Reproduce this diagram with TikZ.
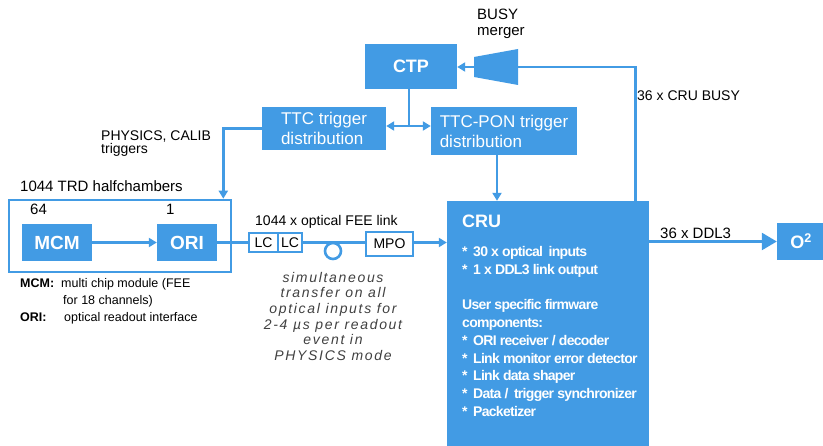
\documentclass[tikz,border=0pt]{standalone}
\usepackage{fontspec}
\setmainfont{Liberation Sans}
\newfontfamily\notefont[LetterSpace=12]{Liberation Sans}
\newfontfamily\crufont[LetterSpace=-5]{Liberation Sans}
\usetikzlibrary{arrows.meta,calc}
\definecolor{trdblue}{RGB}{66,155,228}

\tikzset{
  blk/.style={fill=trdblue, text=white, inner sep=0pt},
  wire/.style={draw=trdblue, line width=2.6pt},
  tip/.style={-{Triangle[length=8pt,width=9pt]}},
  plug/.style={draw=trdblue, line width=2pt, fill=white, inner sep=0pt, minimum height=19pt},
  lbl/.style={anchor=base west, inner sep=0pt},
}

\begin{document}
\begin{tikzpicture}[x=1pt, y=-1pt]
      \useasboundingbox (0,0) rectangle (823,446);

      % boxes
      \node[blk, minimum width=92pt, minimum height=45pt, font=\fontsize{18}{20}\selectfont\bfseries] (ctp) at (411,66.5) {CTP};
      \node[blk, minimum width=124pt, minimum height=43pt, align=left, font=\fontsize{17}{20}\selectfont] (ttc) at (324,128.5) {TTC trigger\\distribution};
      \node[blk, minimum width=146pt, minimum height=48pt, align=left, font=\fontsize{17}{20}\selectfont] (ttcpon) at (504,131) {TTC-PON trigger\\distribution};
      \node[draw=trdblue, line width=2.6pt, minimum width=222pt, minimum height=72pt, inner sep=0pt] (trd) at (120,236) {};
      \node[blk, minimum width=70pt, minimum height=37pt, font=\fontsize{19}{20}\selectfont\bfseries] (mcm) at (57,242.5) {MCM};
      \node[blk, minimum width=60pt, minimum height=37pt, font=\fontsize{19}{20}\selectfont\bfseries] (ori) at (187,242.5) {ORI};
      \node[plug, minimum width=29pt, font=\fontsize{14}{16}\selectfont] (lc1) at (263.5,242.5) {LC};
      \node[plug, minimum width=24pt, font=\fontsize{14}{16}\selectfont] (lc2) at (290,242.5) {LC};
      \node[plug, minimum width=47pt, minimum height=24pt, font=\fontsize{14}{16}\selectfont] (mpo) at (389.5,244) {MPO};
      \node[blk, minimum width=202pt, minimum height=250pt] (cru) at (548,326) {};
      \node[blk, minimum width=48pt, minimum height=37pt, font=\fontsize{18}{20}\selectfont\bfseries] (o2) at (801,241.5) {O\textsuperscript{2}};

      % busy merger
      \fill[trdblue] (474,57) -- (518,49) -- (518,85) -- (474,77) -- cycle;
      \coordinate (mrgL) at (474,67);
      \coordinate (mrgR) at (518,67);

      % cru text
      \node[anchor=base west, inner sep=0pt, text=white, font=\fontsize{18}{20}\selectfont\bfseries] (crut) at (462,228) {CRU};
      \node[anchor=north west, inner sep=0pt, text=white, align=left, font=\fontsize{14}{17.8}\crufont\bfseries] (cruinfo) at (462,246)
        {*\, 30 x optical\, inputs\\
         *\, 1 x DDL3 link output\\[17.8pt]
         User specific firmware\\
         components:\\
         *\, ORI receiver / decoder\\
         *\, Link monitor error detector\\
         *\, Link data shaper\\
         *\, Data /\, trigger synchronizer\\
         *\, Packetizer};

      % connectors
      \draw[wire, tip] (mrgL) -- (ctp.east |- mrgL);
      \coordinate (cruBusy) at ($(cru.north east)+(-14,0)$);
      \draw[wire] (mrgR) -| (cruBusy);
      \coordinate (split) at (409,126);
      \draw[wire] (ctp.south -| split) -- (split);
      \draw[wire, {Triangle[length=8pt,width=9pt]}-{Triangle[length=8pt,width=9pt]}] (ttc.east |- split) -- (ttcpon.west |- split);
      \coordinate (trdIn) at ($(trd.north east)+(-9,0)$);
      \draw[wire, tip] (ttc.west) -| (trdIn);
      \coordinate (ponOut) at ($(ttcpon.south)+(-7,0)$);
      \draw[wire, tip] (ponOut) -- (ponOut |- cru.north);
      \draw[wire, tip] (mcm.east) -- (ori.west);
      \draw[wire] (ori.east) -- (lc1.west);
      \draw[wire] (lc2.east) -- (mpo.west |- lc2);
      \node[draw=trdblue, line width=2.6pt, fill=white, circle, minimum size=16pt, inner sep=0pt] (loop) at (333,251) {};
      \draw[wire, tip] (mpo.east |- lc2) -- (cru.west |- lc2);
      \draw[wire, -{Triangle[length=15pt,width=17pt]}] (cru.east |- o2) -- (o2.west);

      % labels
      \node[lbl, font=\fontsize{15}{17}\selectfont] at (477,20) {BUSY};
      \node[lbl, font=\fontsize{15}{17}\selectfont] at (477,36) {merger};
      \node[lbl, font=\fontsize{14}{16}\selectfont] at (637,101) {36 x CRU BUSY};
      \node[lbl, font=\fontsize{14}{16}\selectfont] at (101,141) {PHYSICS, CALIB};
      \node[lbl, font=\fontsize{14}{16}\selectfont] at (101,154) {triggers};
      \node[lbl, font=\fontsize{15}{17}\selectfont] at (20,192) {1044 TRD halfchambers};
      \node[lbl, font=\fontsize{15}{17}\selectfont] at (30,215) {64};
      \node[lbl, font=\fontsize{15}{17}\selectfont] at (166,215) {1};
      \node[lbl, font=\fontsize{14}{16}\selectfont] at (255,226) {1044 x optical FEE link};
      \node[lbl, font=\fontsize{15}{17}\selectfont] at (660,239) {36 x DDL3};
      \node[anchor=north, inner sep=0pt, align=center, text=black!75, font=\fontsize{14}{15.6}\notefont\itshape] (note) at (333,272)
        {simultaneous\\transfer on all\\optical inputs for\\2-4 µs per readout\\event in\\PHYSICS mode};

      % legend
      \node[lbl, font=\fontsize{12.5}{14}\selectfont\bfseries] at (20,288) {MCM:};
      \node[lbl, font=\fontsize{12.5}{14}\selectfont] at (61,288) {multi chip module (FEE};
      \node[lbl, font=\fontsize{12.5}{14}\selectfont] at (63,305) {for 18 channels)};
      \node[lbl, font=\fontsize{12.5}{14}\selectfont\bfseries] at (20,322) {ORI:};
      \node[lbl, font=\fontsize{12.5}{14}\selectfont] at (64,322) {optical readout interface};
\end{tikzpicture}
\end{document}
